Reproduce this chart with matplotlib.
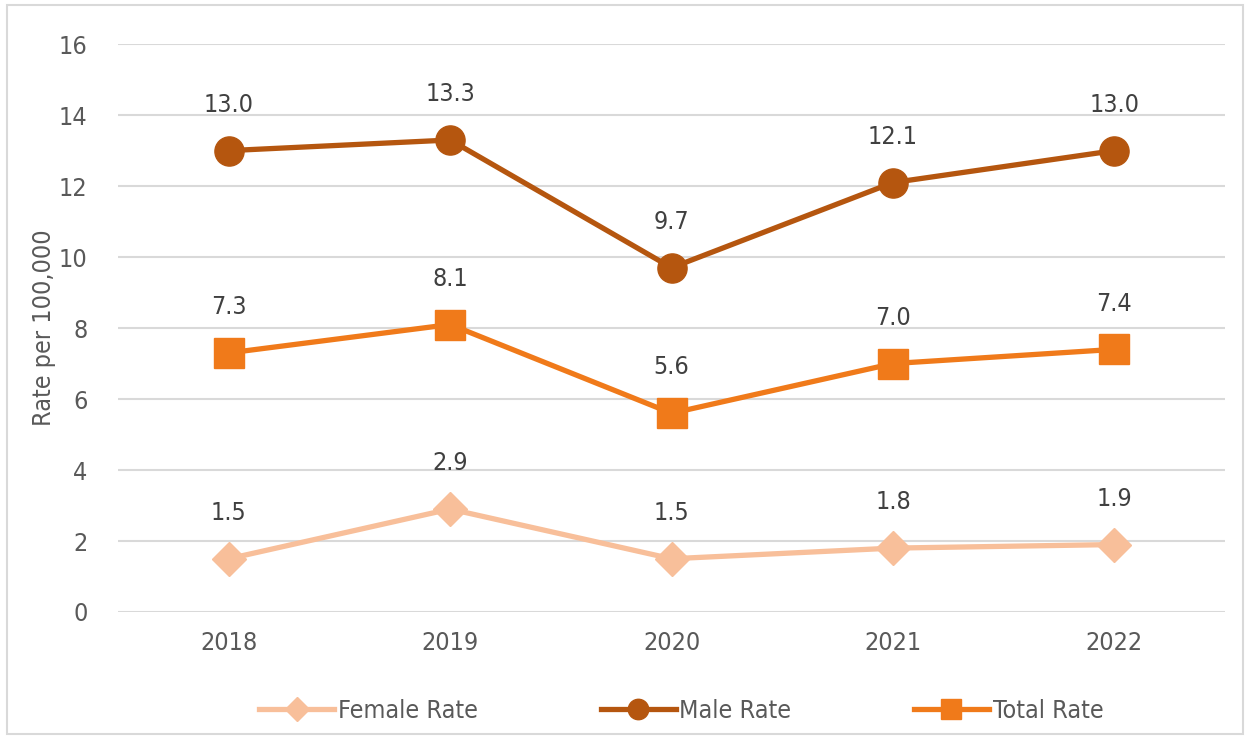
import matplotlib.pyplot as plt
from matplotlib.patches import Rectangle

# datos del grafico
anios = ['2018', '2019', '2020', '2021', '2022']
tasa_mujeres = [1.5, 2.9, 1.5, 1.8, 1.9]
tasa_hombres = [13.0, 13.3, 9.7, 12.1, 13.0]
tasa_total = [7.3, 8.1, 5.6, 7.0, 7.4]
ticks_y = [0, 2, 4, 6, 8, 10, 12, 14, 16]

plt.rcParams['font.family'] = ['DejaVu Sans']
plt.rcParams['font.stretch'] = 'condensed'
gris = '#595959'

fig = plt.figure(figsize=(12.48, 7.36), dpi=100)
ax = fig.add_axes([0.0946, 0.1685, 0.887, 0.7715])

x = list(range(len(anios)))
series = [
    ('Female Rate', tasa_mujeres, '#F8BF9A', 'D', 17),
    ('Male Rate', tasa_hombres, '#B5560F', 'o', 21),
    ('Total Rate', tasa_total, '#F07A1A', 's', 21),
]
for nombre, valores, color, marca, tam in series:
    ax.plot(x, valores, color=color, lw=3.8, marker=marca, markersize=tam,
            label=nombre, zorder=3)
    for xi, v in zip(x, valores):
        ax.annotate(f'{v:.1f}', (xi, v), xytext=(0, 33), textcoords='offset points',
                    ha='center', va='center', fontsize=18, color='#404040')

ax.set_xlim(-0.5, len(anios) - 0.5)
ax.set_ylim(0, 16)
ax.set_xticks(x)
ax.set_xticklabels(anios)
ax.set_yticks(ticks_y)
ax.tick_params(axis='both', length=0, labelsize=18, labelcolor=gris)
ax.tick_params(axis='x', pad=14)
ax.tick_params(axis='y', pad=22)
ax.grid(axis='y', color='#D9D9D9', lw=1.5)
ax.set_axisbelow(True)
for lado in ax.spines.values():
    lado.set_visible(False)
ax.set_ylabel('Rate per 100,000', fontsize=18, color=gris, labelpad=2)

leg = fig.legend(loc='center', bbox_to_anchor=(0.546, 0.034), ncol=3, frameon=False,
                 fontsize=18, labelcolor=gris, handlelength=3.0, handletextpad=0.15,
                 columnspacing=4.9, markerscale=0.7)

# borde exterior del grafico
fig.patches.append(Rectangle((0.006, 0.003), 0.99, 0.99, transform=fig.transFigure,
                             fill=False, edgecolor='#D9D9D9', lw=1.5))

fig.savefig('out.png', dpi=100)
